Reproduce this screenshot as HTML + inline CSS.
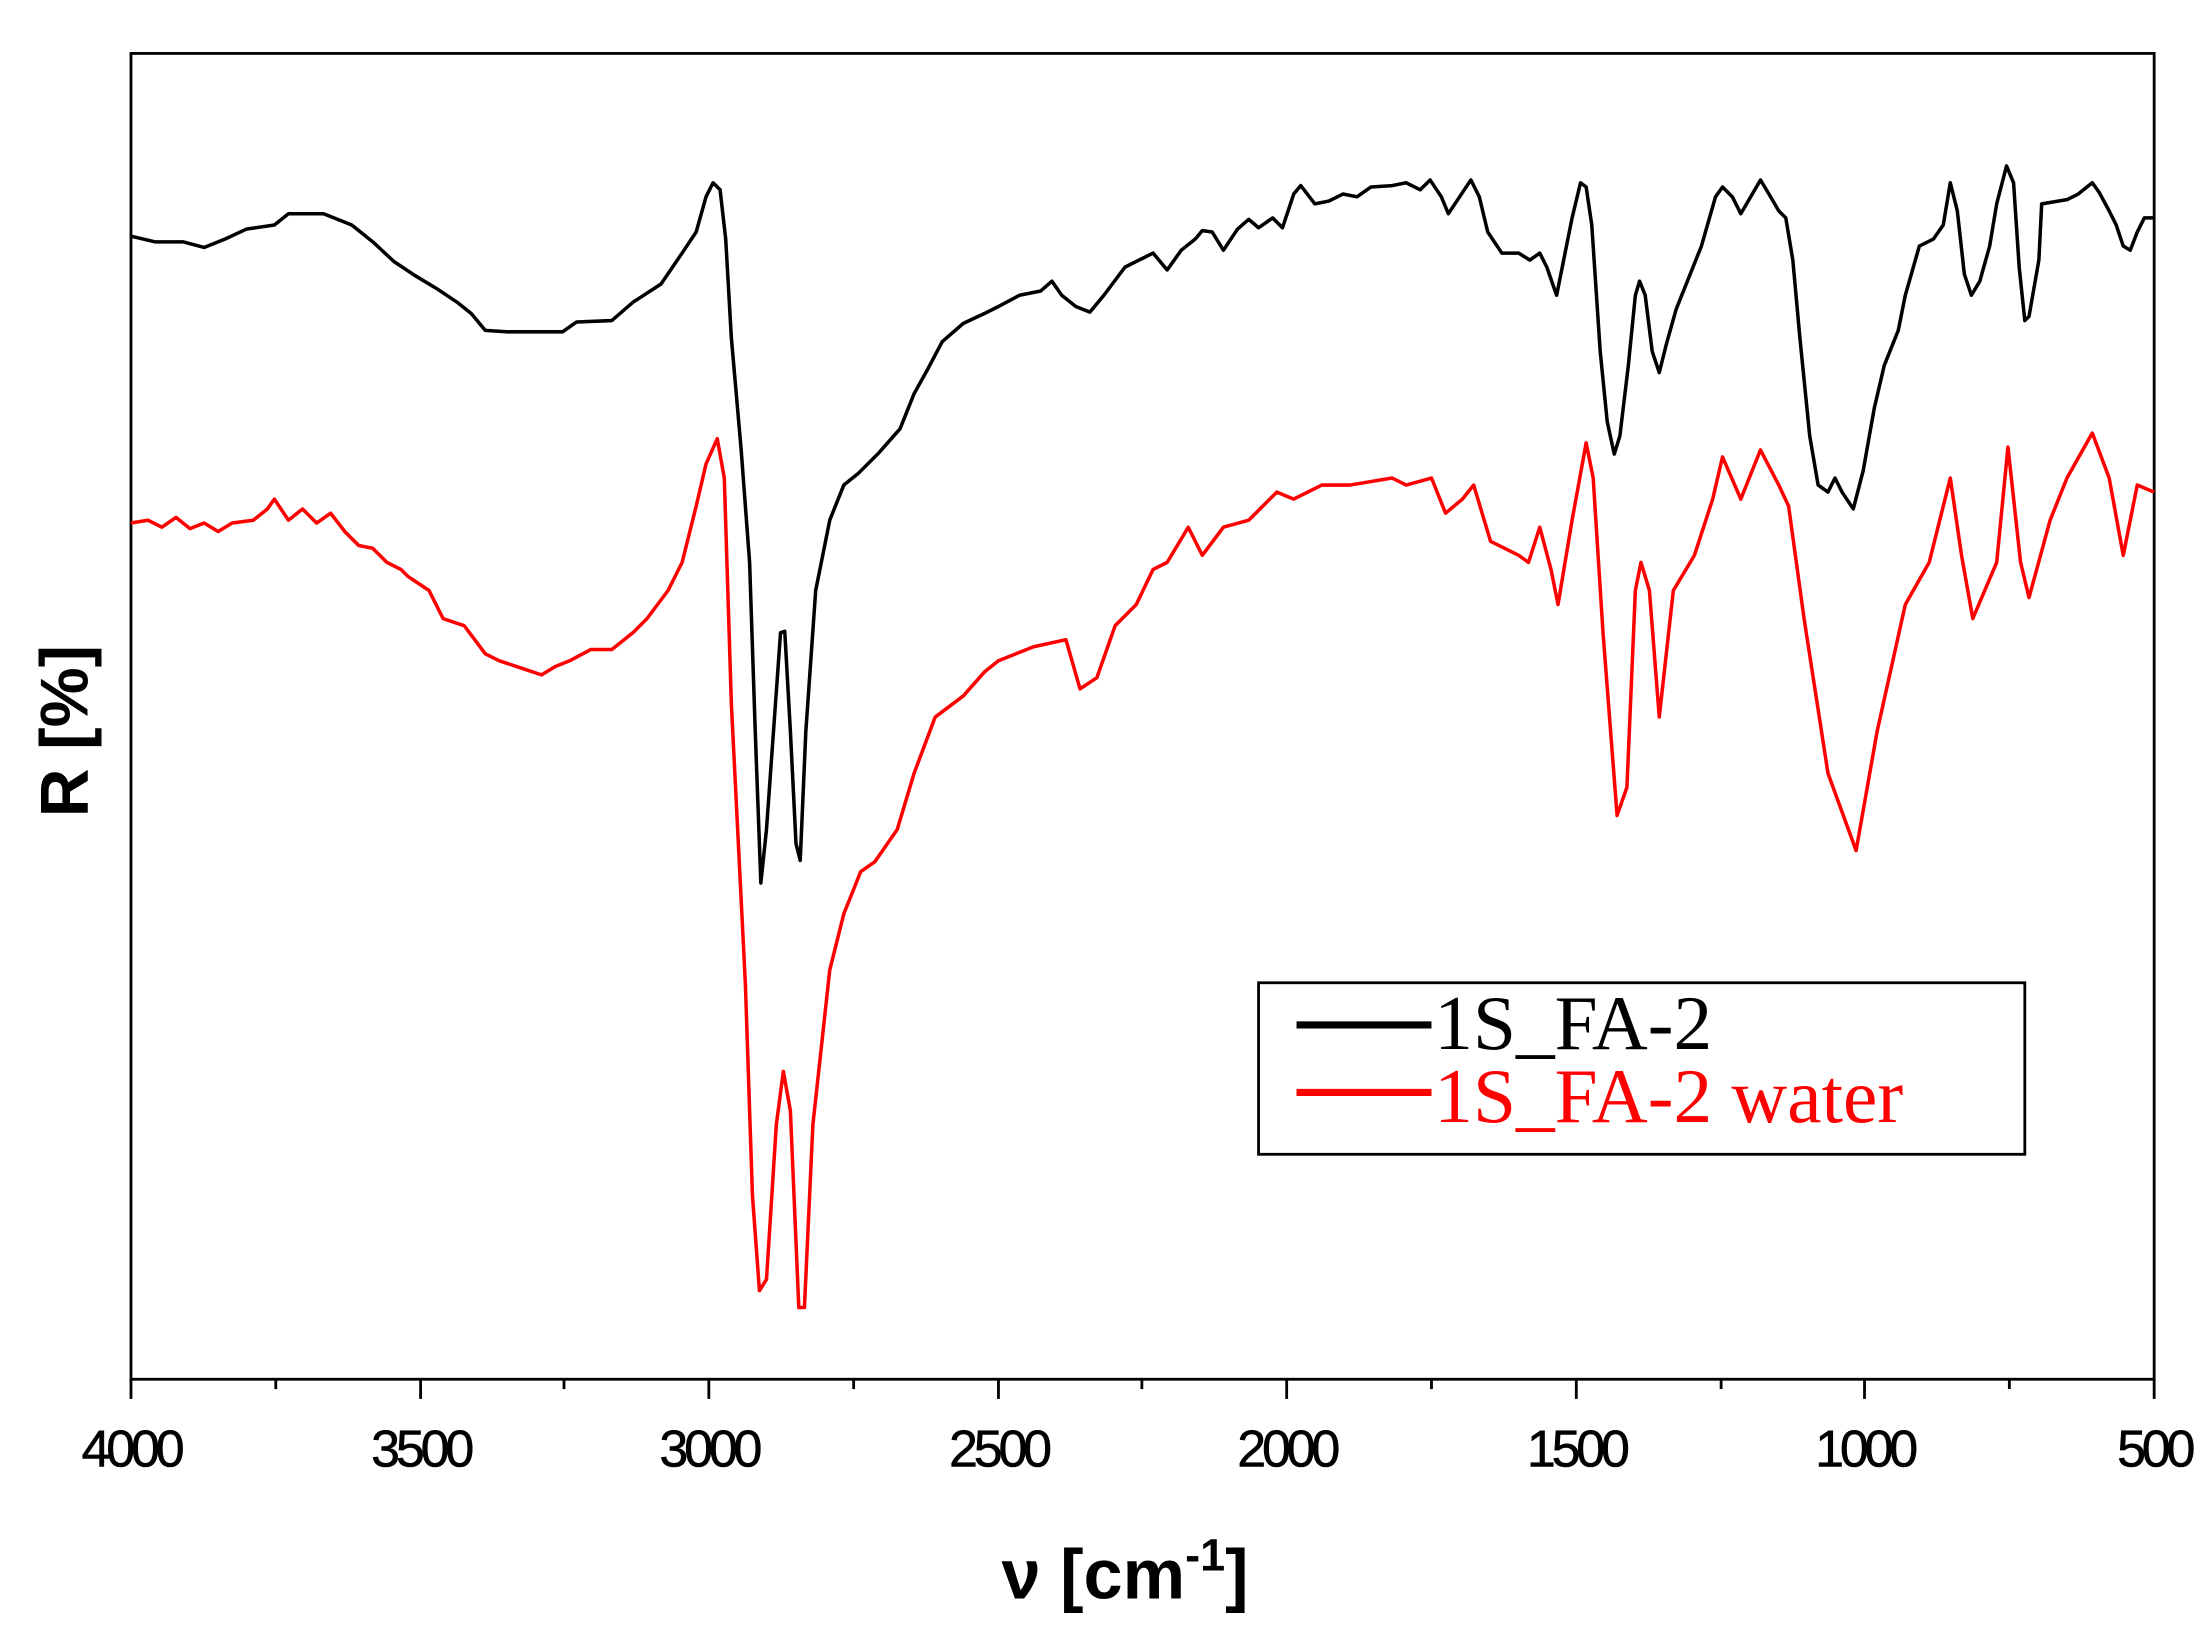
<!DOCTYPE html>
<html><head><meta charset="utf-8"><style>
html,body{margin:0;padding:0;background:#fff;}
svg{display:block;}
</style></head><body>
<svg width="2205" height="1652" viewBox="0 0 1568 1175" xmlns="http://www.w3.org/2000/svg">
<rect width="1568" height="1175" fill="#fff"/>
<rect x="93" y="38" width="1439" height="943" fill="none" stroke="#000" stroke-width="2"/>
<g stroke="#000" stroke-width="2">
<line x1="93" y1="981" x2="93" y2="995"/><line x1="196" y1="981" x2="196" y2="988"/>
<line x1="299" y1="981" x2="299" y2="995"/><line x1="401" y1="981" x2="401" y2="988"/>
<line x1="504" y1="981" x2="504" y2="995"/><line x1="607" y1="981" x2="607" y2="988"/>
<line x1="710" y1="981" x2="710" y2="995"/><line x1="812" y1="981" x2="812" y2="988"/>
<line x1="915" y1="981" x2="915" y2="995"/><line x1="1018" y1="981" x2="1018" y2="988"/>
<line x1="1121" y1="981" x2="1121" y2="995"/><line x1="1224" y1="981" x2="1224" y2="988"/>
<line x1="1326" y1="981" x2="1326" y2="995"/><line x1="1429" y1="981" x2="1429" y2="988"/>
<line x1="1532" y1="981" x2="1532" y2="995"/>
</g>
<g font-family="Liberation Sans, sans-serif" font-size="37" text-anchor="middle" letter-spacing="-3" stroke="#000" stroke-width="0.4">
<text x="93" y="1043">4000</text><text x="299" y="1043">3500</text><text x="504" y="1043">3000</text>
<text x="710" y="1043">2500</text><text x="915" y="1043">2000</text><text x="1121" y="1043">1500</text>
<text x="1326" y="1043">1000</text><text x="1532" y="1043">500</text>
</g>
<text x="800" y="1137" font-family="Liberation Sans, sans-serif" font-size="50" font-weight="bold" text-anchor="middle">ν [cm<tspan dy="-20" font-size="32">-1</tspan><tspan dy="20">]</tspan></text>
<text transform="translate(62,520) rotate(-90)" font-family="Liberation Sans, sans-serif" font-size="48" font-weight="bold" text-anchor="middle">R [%]</text>
<polyline fill="none" stroke="#000" stroke-width="2.5" stroke-linejoin="round" points="93,168 110,172 130,172 145,176 160,170 175,163 195,160 205,152 230,152 250,160 265,172 280,186 295,196 310,205 325,215 335,223 345,235 360,236 400,236 410,229 435,228 450,215 470,202 485,180 495,165 502,140 507,130 512,135 516,170 520,240 527,320 533,400 537,520 541,628 545,590 550,520 555,450 558,449 562,520 566,600 569,612 573,520 580,420 590,370 600,345 610,337 625,322 640,305 650,280 660,262 670,243 685,230 700,223 710,218 725,210 740,207 748,200 755,210 765,218 775,222 785,210 800,190 810,185 820,180 830,192 840,178 850,170 855,164 862,165 870,178 880,163 888,156 895,162 905,155 912,162 920,138 925,132 935,145 945,143 955,138 965,140 975,133 990,132 1000,130 1010,135 1017,128 1025,140 1030,152 1038,140 1046,128 1052,140 1058,165 1068,180 1080,180 1088,185 1095,180 1100,190 1107,210 1112,185 1118,155 1124,130 1128,133 1132,160 1138,250 1143,300 1148,323 1152,310 1158,260 1163,210 1166,200 1170,210 1175,250 1180,265 1185,245 1192,220 1200,200 1210,175 1220,140 1225,133 1232,140 1238,152 1245,140 1252,128 1258,138 1265,150 1270,155 1275,185 1280,240 1287,310 1293,345 1300,350 1305,340 1310,350 1318,362 1325,335 1333,290 1340,260 1350,235 1355,210 1365,175 1375,170 1382,160 1387,130 1392,150 1397,195 1402,210 1408,200 1415,175 1420,145 1427,118 1432,130 1436,190 1440,228 1443,225 1450,185 1452,145 1470,142 1478,138 1488,130 1493,137 1500,150 1505,160 1510,175 1515,178 1520,165 1525,155 1532,155"/>
<polyline fill="none" stroke="#f00" stroke-width="2.5" stroke-linejoin="round" points="93,372 105,370 115,375 125,368 135,376 145,372 155,378 165,372 180,370 190,362 195,355 205,370 215,362 225,372 235,365 245,378 255,388 265,390 275,400 285,405 290,410 305,420 315,440 330,445 345,465 355,470 370,475 385,480 395,474 405,470 420,462 435,462 450,450 460,440 475,420 485,400 495,360 502,330 510,312 515,340 520,500 530,700 535,850 540,918 545,910 552,800 557,762 562,790 568,930 572,930 578,800 590,690 600,650 612,620 622,613 638,590 650,550 665,510 685,495 700,478 710,470 735,460 758,455 768,490 780,482 793,445 808,430 820,405 830,400 845,375 855,395 870,375 888,370 908,350 920,355 940,345 960,345 990,340 1000,345 1018,340 1028,365 1040,355 1048,345 1060,385 1080,395 1087,400 1095,375 1103,405 1108,430 1118,370 1128,315 1133,340 1140,450 1150,580 1157,560 1163,420 1167,400 1173,420 1180,510 1190,420 1205,395 1218,355 1225,325 1238,355 1252,320 1265,345 1272,360 1283,440 1300,550 1320,605 1335,520 1355,430 1372,400 1387,340 1395,395 1403,440 1420,400 1428,318 1437,400 1443,425 1458,370 1470,340 1488,308 1500,340 1510,395 1520,345 1532,350"/>
<rect x="895" y="699" width="545" height="122" fill="#fff" stroke="#000" stroke-width="2"/>
<line x1="922" y1="729" x2="1018" y2="729" stroke="#000" stroke-width="5"/>
<line x1="922" y1="777" x2="1018" y2="777" stroke="#f00" stroke-width="5"/>
<g font-family="Liberation Serif, serif" font-size="55">
<text x="1020" y="746" fill="#000">1S_FA-2</text>
<text x="1020" y="798" fill="#f00">1S_FA-2 water</text>
</g>
</svg>
</body></html>
